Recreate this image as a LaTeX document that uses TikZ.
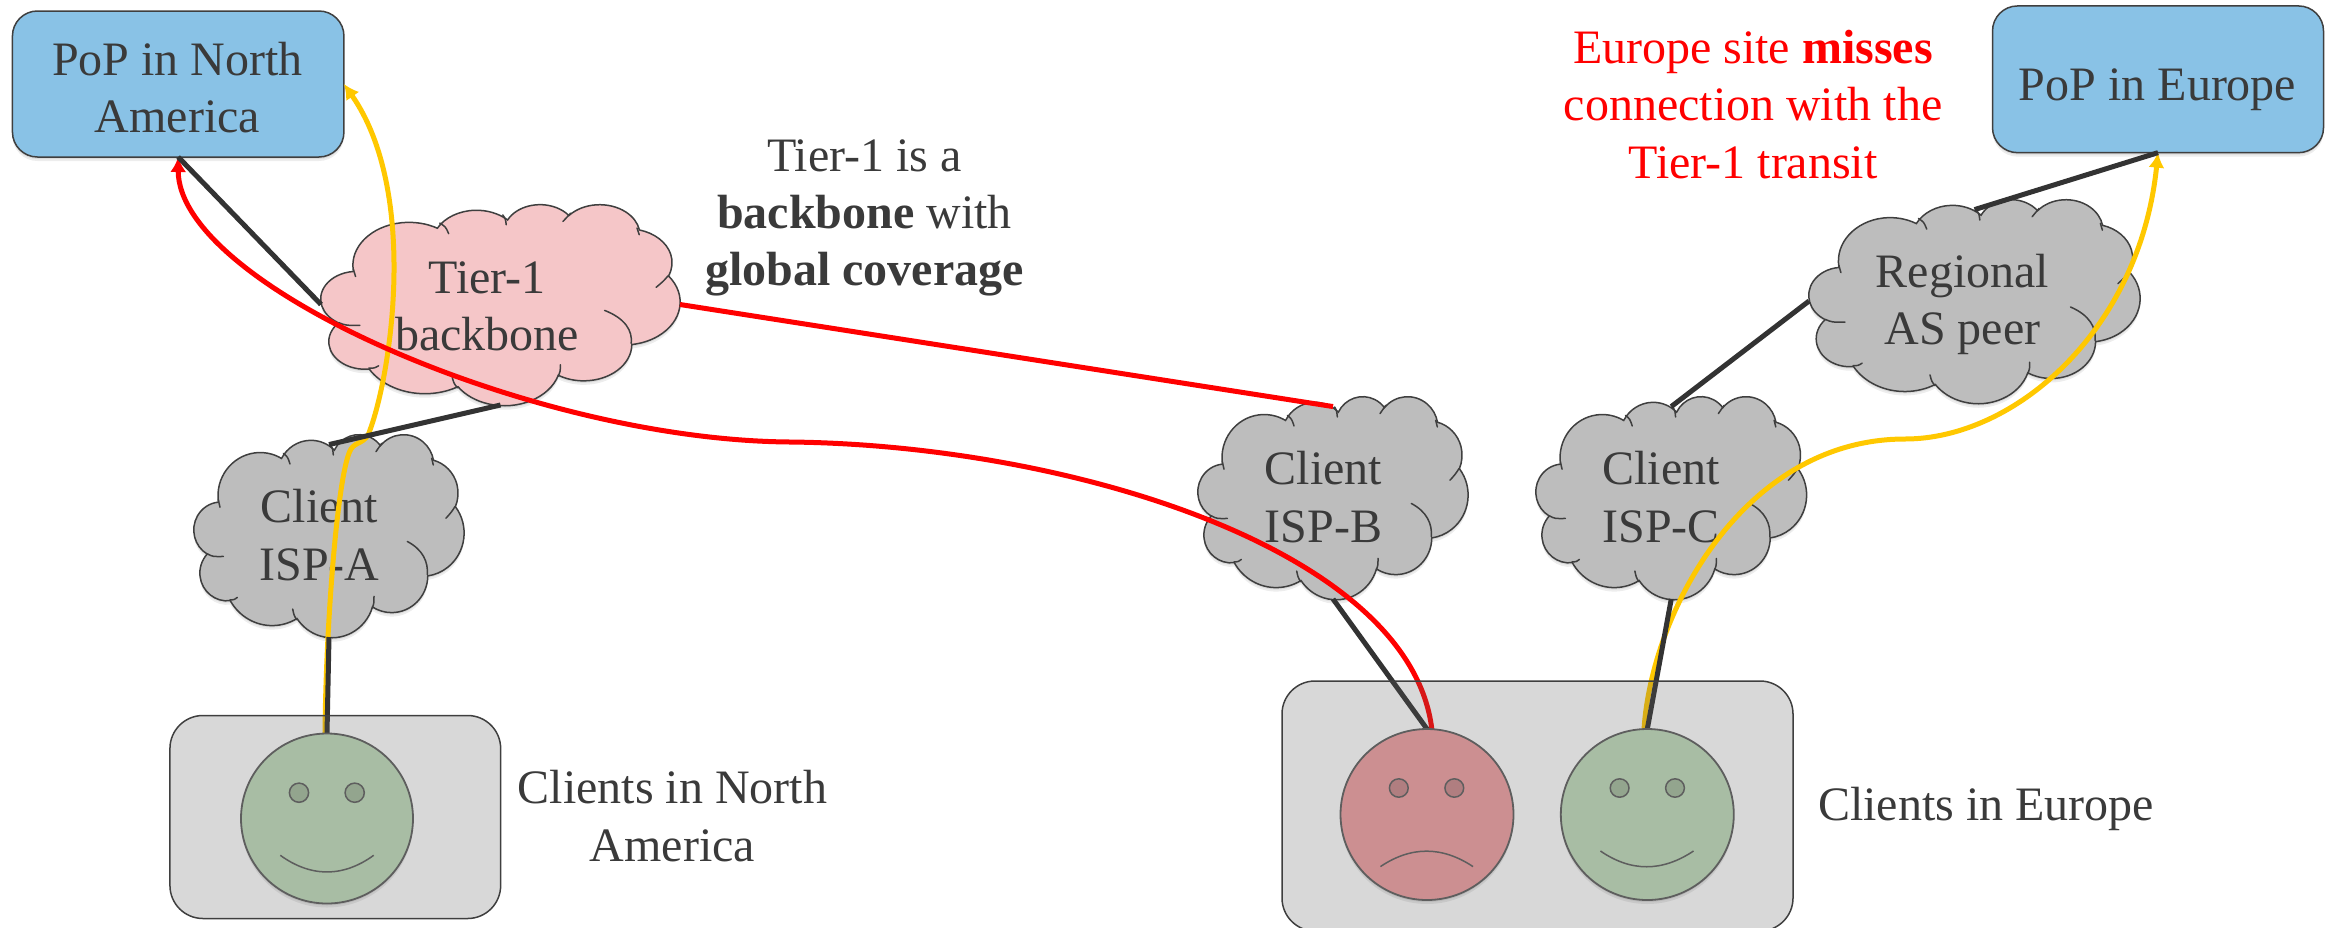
\documentclass[tikz,border=0pt]{standalone}
\usepackage{fontspec}
\setmainfont{Liberation Serif}
\usetikzlibrary{arrows.meta,shapes.geometric,shadows}
\definecolor{txt}{HTML}{3A3A3A}
\definecolor{edgec}{HTML}{3F3F3F}
\definecolor{linec}{HTML}{333333}
\definecolor{popblue}{HTML}{89C2E6}
\definecolor{tierpink}{HTML}{F5C6C8}
\definecolor{cloudgray}{HTML}{BDBDBD}
\definecolor{boxgray}{HTML}{5C5C5C}
\definecolor{goodface}{HTML}{A8BDA4}
\definecolor{goodeye}{HTML}{93A58E}
\definecolor{badface}{HTML}{CC8F91}
\definecolor{badeye}{HTML}{B07E80}
\definecolor{facedge}{HTML}{5E5E5E}
\definecolor{pathred}{HTML}{FF0000}
\definecolor{pathyel}{HTML}{FFC800}
% PowerPoint cloud outline on a 43.2 x 43.2 grid
\def\cloudpath{}
\newcommand{\addarc}[4]{%
  \pgfmathparse{atan2(#1*sin(#3),#2*cos(#3))}\let\tS\pgfmathresult
  \pgfmathparse{atan2(#1*sin(#3+#4),#2*cos(#3+#4))}\let\tE\pgfmathresult
  \pgfmathparse{mod(\tE-\tS+720,360)}\let\tD\pgfmathresult
  \xdef\cloudpath{\cloudpath arc[x radius=#1,y radius=#2,start angle=\tS,delta angle=\tD]}}
\addarc{6.753}{9.190}{-190.487}{123.781}
\addarc{5.333}{7.267}{-144.102}{89.945}
\addarc{4.365}{5.945}{-145.808}{99.723}
\addarc{4.857}{6.595}{-130.986}{117.242}
\addarc{5.333}{7.273}{-78.709}{109.027}
\addarc{6.775}{9.220}{-46.267}{130.269}
\addarc{5.785}{7.867}{0.625}{114.033}
\addarc{6.752}{9.215}{22.452}{115.173}
\addarc{7.720}{10.543}{66.243}{75.711}
\addarc{4.360}{5.918}{-274.942}{146.736}
\addarc{4.345}{5.945}{-246.829}{152.519}
\tikzset{
  softshadow/.style={
    general shadow={fill=black,opacity=.07,shadow xshift=0pt,shadow yshift=-2pt},
    general shadow={fill=black,opacity=.07,shadow xshift=0pt,shadow yshift=-4pt}},
  cloudshape/.style={draw=edgec,line width=1.5pt,softshadow},
  crease/.style={draw=edgec,line width=1.5pt,line cap=round},
  cloudsite/.style={rectangle,inner sep=0pt,outer sep=0pt},
  label/.style={text=txt,align=center,font=\fontsize{48}{57.3}\selectfont,inner sep=0pt},
  pop/.style={rectangle,rounded corners=25pt,draw=edgec,fill=popblue,line width=1.5pt,
    inner sep=0pt,outer sep=0pt,softshadow},
  clientbox/.style={rectangle,rounded corners=33pt,draw=edgec,line width=1.5pt,
    fill=boxgray,fill opacity=.24,inner sep=0pt,outer sep=0pt},
  face/.style={ellipse,draw=facedge,line width=1.8pt,inner sep=0pt,outer sep=0pt,softshadow},
  eye/.style={draw=facedge,line width=1.5pt},
  mouth/.style={draw=facedge,line width=1.5pt},
  link/.style={draw=linec,line width=5pt},
  redpath/.style={draw=pathred,line width=5pt},
  yelpath/.style={draw=pathyel,line width=5pt},
  redtip/.style={-{Latex[length=15pt,width=16pt]}},
}
\newcommand{\cloudat}[6]{%
  \node[cloudsite,minimum width=#4pt,minimum height=#5pt] (#1) at ({#2+#4/2},{#3+#5/2}) {};
  \coordinate (#1-top) at ({#2+#4/2},{#3+0.052*#5});
  \pgfmathsetmacro\cu{#4/43.2}\pgfmathsetmacro\cv{#5/43.2}
  \begin{scope}[shift={(#2,#3)},x=\cu pt,y=-\cv pt]
    \path[cloudshape,fill=#6] (3.9,14.37) \cloudpath -- cycle;
    \draw[crease] (14.29,4.11) .. controls (15.0,4.9) .. (15.36,6.37);
    \draw[crease] (21.87,2.34) .. controls (22.2,3.2) .. (22.29,4.46);
    \draw[crease] (30.03,1.98) .. controls (29.5,2.7) .. (29.12,3.75);
    \draw[crease] (38.03,5.17) .. controls (38.2,5.8) .. (38.29,6.59);
    \draw[crease] (41.76,15.44) .. controls (41.2,16.6) .. (40.32,17.92);
    \draw[crease] (34.13,22.87) .. controls (36.6,24.6) and (37.5,27.2) .. (37.33,29.96);
    \draw[crease] (28.53,37.04) .. controls (28.8,36.0) .. (28.8,34.56);
    \draw[crease] (16.43,39.52) .. controls (16.0,38.6) .. (15.79,37.25);
    \draw[crease] (5.76,35.27) .. controls (6.4,35.3) .. (6.93,34.77);
    \draw[crease] (2.13,25.5) .. controls (3.0,26.1) .. (4.69,26.06);
    \draw[crease] (3.89,14.02) .. controls (4.0,14.7) .. (4.16,15.58);
  \end{scope}}
\begin{document}
\begin{tikzpicture}[x=1pt,y=-1pt]
\useasboundingbox (0,0) rectangle (2333,927);
% clouds
\cloudat{tier1}{321}{204}{359}{201}{tierpink}
\cloudat{ispa}{194}{434}{270}{203}{cloudgray}
\cloudat{ispb}{1198}{396}{270}{203}{cloudgray}
\cloudat{ispc}{1536}{396}{270.5}{203}{cloudgray}
\cloudat{regional}{1809}{199}{331}{204}{cloudgray}
% PoPs
\node[pop,minimum width=331.5pt,minimum height=146pt] (popna) at (178.2,84) {};
\node[pop,minimum width=331pt,minimum height=146.7pt] (popeu) at (2158,79.3) {};
% labels
\node[label] (popnatext) at (177.5,87.5) {PoP in North\\America};
\node[label] (popeutext) at (2157.6,90) {PoP in Europe};
\node[label] (tier1text) at (487,306) {Tier-1\\backbone};
\node[label] (ispatext) at (319.4,535) {Client\\ISP-A};
\node[label] (ispbtext) at (1323.5,497) {Client\\ISP-B};
\node[label] (ispctext) at (1661,497) {Client\\ISP-C};
\node[label] (regionaltext) at (1962.6,304.5) {Regional\\AS peer};
\node[label] (note1) at (864.5,218) {Tier-1 is a\\\textbf{backbone} with\\\textbf{global coverage}};
\node[label,text=pathred] (note2) at (1753,104.5) {Europe site \textbf{misses}\\connection with the\\Tier-1 transit};
\node[label] (naclients) at (672.6,816) {Clients in North\\America};
\node[label] (euclients) at (1986,809) {Clients in Europe};
% anchors of faces, placed now so connectors may run under the boxes
\node[cloudsite,minimum width=172pt,minimum height=170pt] (facena) at (327,818.5) {};
\node[cloudsite,ellipse,minimum width=173pt,minimum height=171pt] (facesad) at (1427,814.5) {};
\node[cloudsite,ellipse,minimum width=173pt,minimum height=171pt] (facehappy) at (1647.3,814.5) {};
\coordinate (yelmidna) at (351,449);
\coordinate (yelknot) at (370,430);
\coordinate (yelmideu) at (1905,439);
\coordinate (redmid) at (790,442);
% yellow paths
\draw[yelpath,redtip] (325,733) .. controls (326,620) and (338,470) .. (yelmidna)
  .. controls (356,441) and (366,444) .. (yelknot)
  .. controls (392,370) and (418,190) .. (popna.east);
\draw[yelpath,redtip] (1644,729) .. controls (1652,610) and (1745,439) .. (yelmideu)
  .. controls (2015,439) and (2140,330) .. (popeu.south);
% red paths
\draw[redpath,redtip] (1431.8,729) .. controls (1410,550) and (1070,445) .. (redmid)
  .. controls (530,440) and (178,285) .. (popna.south);
\draw[redpath] (tier1.east) -- (ispb-top);
% black links
\draw[link] (popna.south) -- (tier1.west);
\draw[link] (tier1.south) -- (ispa-top);
\draw[link] (ispa.south) -- (facena.north);
\draw[link] (ispb.south) -- (facesad.north);
\draw[link] (ispc.south) -- (facehappy.north);
\draw[link] (ispc-top) -- (regional.west);
\draw[link] (regional-top) -- (popeu.south);
% client boxes
\node[clientbox,minimum width=330.7pt,minimum height=203pt] (boxna) at (335.3,817) {};
\node[clientbox,minimum width=511pt,minimum height=250pt] (boxeu) at (1537.5,806) {};
% faces
\node[face,fill=goodface,minimum width=172pt,minimum height=170pt] (fna) at (facena) {};
\draw[eye,fill=goodeye] (299,792.7) circle (9.6);
\draw[eye,fill=goodeye] (354.7,792.7) circle (9.6);
\draw[mouth] (280.3,855.3) .. controls (311,877.5) and (343,877.5) .. (373.7,855.3);
\node[face,fill=badface,minimum width=173pt,minimum height=171pt] (fsad) at (facesad) {};
\draw[eye,fill=badeye] (1398.8,788) ellipse (9.4 and 9.2);
\draw[eye,fill=badeye] (1454.3,788) ellipse (9.4 and 9.2);
\draw[mouth] (1380.4,866.6) .. controls (1411,846) and (1442,846) .. (1473,866.6);
\node[face,fill=goodface,minimum width=173pt,minimum height=171pt] (fhappy) at (facehappy) {};
\draw[eye,fill=goodeye] (1619.6,788) ellipse (9.4 and 9.2);
\draw[eye,fill=goodeye] (1675,788) ellipse (9.4 and 9.2);
\draw[mouth] (1600.4,851) .. controls (1631,872) and (1662,872) .. (1693.5,851);
\end{tikzpicture}
\end{document}
